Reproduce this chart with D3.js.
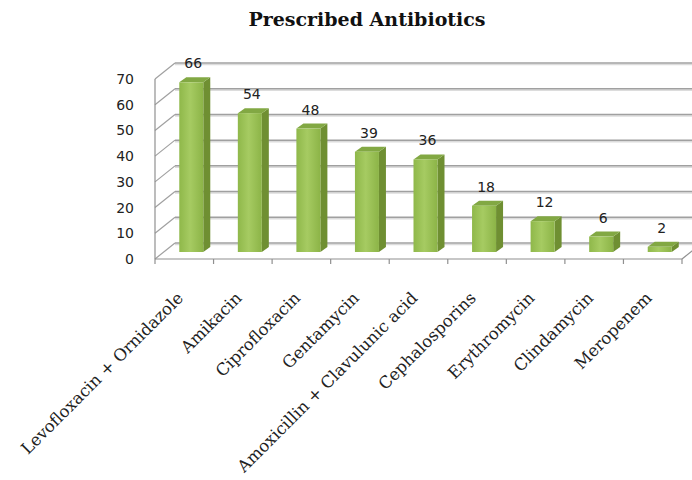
<!DOCTYPE html>
<html>
<head>
<meta charset="utf-8">
<script src="https://cdn.jsdelivr.net/npm/d3@7"></script>
<style>
  body { margin: 0; background: #fff; }
  svg { display: block; }
</style>
</head>
<body>
<svg width="692" height="480"></svg>
<script>
// Data.
const categories = [
  'Levofloxacin + Ornidazole', 'Amikacin', 'Ciprofloxacin', 'Gentamycin',
  'Amoxicillin + Clavulunic acid', 'Cephalosporins', 'Erythromycin',
  'Clindamycin', 'Meropenem'
];
const values = [66, 54, 48, 39, 36, 18, 12, 6, 2];
const yTicks = [0, 10, 20, 30, 40, 50, 60, 70];

// 1. Dimensions and the fake 3D offsets.
const svg = d3.select('svg');
const plotLeft = 155, plotRight = 682, plotBottom = 259, plotTop = 79;
const wallDx = 20, wallDy = -16;   // front -> back wall
const baseDx = 7, baseDy = -7;     // front -> bar front face
const barDx = 7, barDy = -5;       // bar depth
const barW = 24;

// 2. Scales.
const xScale = d3.scaleBand().domain(categories).range([plotLeft, plotRight]);
const yScale = d3.scaleLinear().domain([0, 70]).range([plotBottom, plotTop]);

// Gradient for the bar front.
const defs = svg.append('defs');
const grad = defs.append('linearGradient').attr('id', 'front');
grad.append('stop').attr('offset', '0%').attr('stop-color', '#8fb84a');
grad.append('stop').attr('offset', '45%').attr('stop-color', '#a6cb62');
grad.append('stop').attr('offset', '100%').attr('stop-color', '#8cb447');

// 3. Walls and grid.
const grid = svg.append('g');
yTicks.forEach(t => {
  const y = yScale(t);
  // shadow line
  grid.append('line')
    .attr('x1', plotLeft + wallDx).attr('x2', 700)
    .attr('y1', y + wallDy + 1.5).attr('y2', y + wallDy + 1.5)
    .style('stroke', '#dcdcdc').style('stroke-width', 1.5);
  grid.append('line')
    .attr('x1', plotLeft + wallDx).attr('x2', 700)
    .attr('y1', y + wallDy).attr('y2', y + wallDy)
    .style('stroke', '#a0a0a0').style('stroke-width', 1.5);
  grid.append('line')
    .attr('x1', plotLeft).attr('x2', plotLeft + wallDx)
    .attr('y1', y).attr('y2', y + wallDy)
    .style('stroke', '#a0a0a0').style('stroke-width', 1.2);
});

// Vertical axis and floor front edge.
grid.append('line')
  .attr('x1', plotLeft).attr('x2', plotLeft)
  .attr('y1', yScale(70)).attr('y2', plotBottom)
  .style('stroke', '#909090').style('stroke-width', 1.2);
grid.append('line')
  .attr('x1', plotLeft).attr('x2', plotRight)
  .attr('y1', plotBottom).attr('y2', plotBottom)
  .style('stroke', '#909090').style('stroke-width', 1.2);
grid.append('line')
  .attr('x1', plotRight).attr('x2', plotRight + wallDx)
  .attr('y1', plotBottom).attr('y2', plotBottom + wallDy)
  .style('stroke', '#909090').style('stroke-width', 1.2);

// Category ticks.
const tickXs = categories.map(c => xScale(c)).concat([plotRight]);
grid.selectAll('line.tick')
  .data(tickXs)
  .enter()
  .append('line')
  .attr('class', 'tick')
  .attr('x1', d => d).attr('x2', d => d)
  .attr('y1', plotBottom).attr('y2', plotBottom + 5)
  .style('stroke', '#909090').style('stroke-width', 1.2);

// Y labels.
svg.append('g')
  .selectAll('text')
  .data(yTicks)
  .enter()
  .append('text')
  .text(d => d)
  .attr('x', 134)
  .attr('y', d => yScale(d))
  .attr('dy', '0.36em')
  .attr('text-anchor', 'end')
  .style('font-family', 'DejaVu Sans')
  .style('font-size', '14px')
  .style('fill', '#222');

// 4. Bars.
const bx = d => xScale(d.c) + xScale.bandwidth() / 2 + baseDx - barW / 2;
const by = v => yScale(v) + baseDy;
const data = categories.map((c, i) => ({ c, v: values[i] }));

const bars = svg.append('g').selectAll('g').data(data).enter().append('g');

// side face
bars.append('path')
  .attr('d', d => {
    const x = bx(d) + barW, y0 = by(0), y1 = by(d.v);
    return `M${x},${y1}L${x + barDx},${y1 + barDy}L${x + barDx},${y0 + barDy}L${x},${y0}Z`;
  })
  .style('fill', '#6f8f32');

// top face
bars.append('path')
  .attr('d', d => {
    const x = bx(d), y = by(d.v);
    return `M${x},${y}L${x + barDx},${y + barDy}L${x + barW + barDx},${y + barDy}L${x + barW},${y}Z`;
  })
  .style('fill', '#82a843');

// front face
bars.append('rect')
  .attr('x', d => bx(d))
  .attr('y', d => by(d.v))
  .attr('width', barW)
  .attr('height', d => by(0) - by(d.v))
  .style('fill', 'url(#front)');

// Value labels.
bars.append('text')
  .text(d => d.v)
  .attr('x', d => bx(d) + barW / 2 + 2)
  .attr('y', d => by(d.v) - 14)
  .attr('text-anchor', 'middle')
  .style('font-family', 'DejaVu Sans')
  .style('font-size', '14px')
  .style('fill', '#222');

// 5. Category labels.
svg.append('g')
  .selectAll('text')
  .data(categories)
  .enter()
  .append('text')
  .text(d => d)
  .attr('text-anchor', 'end')
  .attr('transform', d => `translate(${xScale(d) + xScale.bandwidth() / 2},${plotBottom + 40}) rotate(-45)`)
  .style('font-family', 'DejaVu Serif')
  .style('font-size', '16.5px')
  .style('fill', '#222');

// Title.
svg.append('text')
  .text('Prescribed Antibiotics')
  .attr('x', 367)
  .attr('y', 26)
  .attr('text-anchor', 'middle')
  .style('font-family', 'DejaVu Serif')
  .style('font-weight', 'bold')
  .style('font-size', '19px')
  .style('fill', '#111');
</script>
</body>
</html>
